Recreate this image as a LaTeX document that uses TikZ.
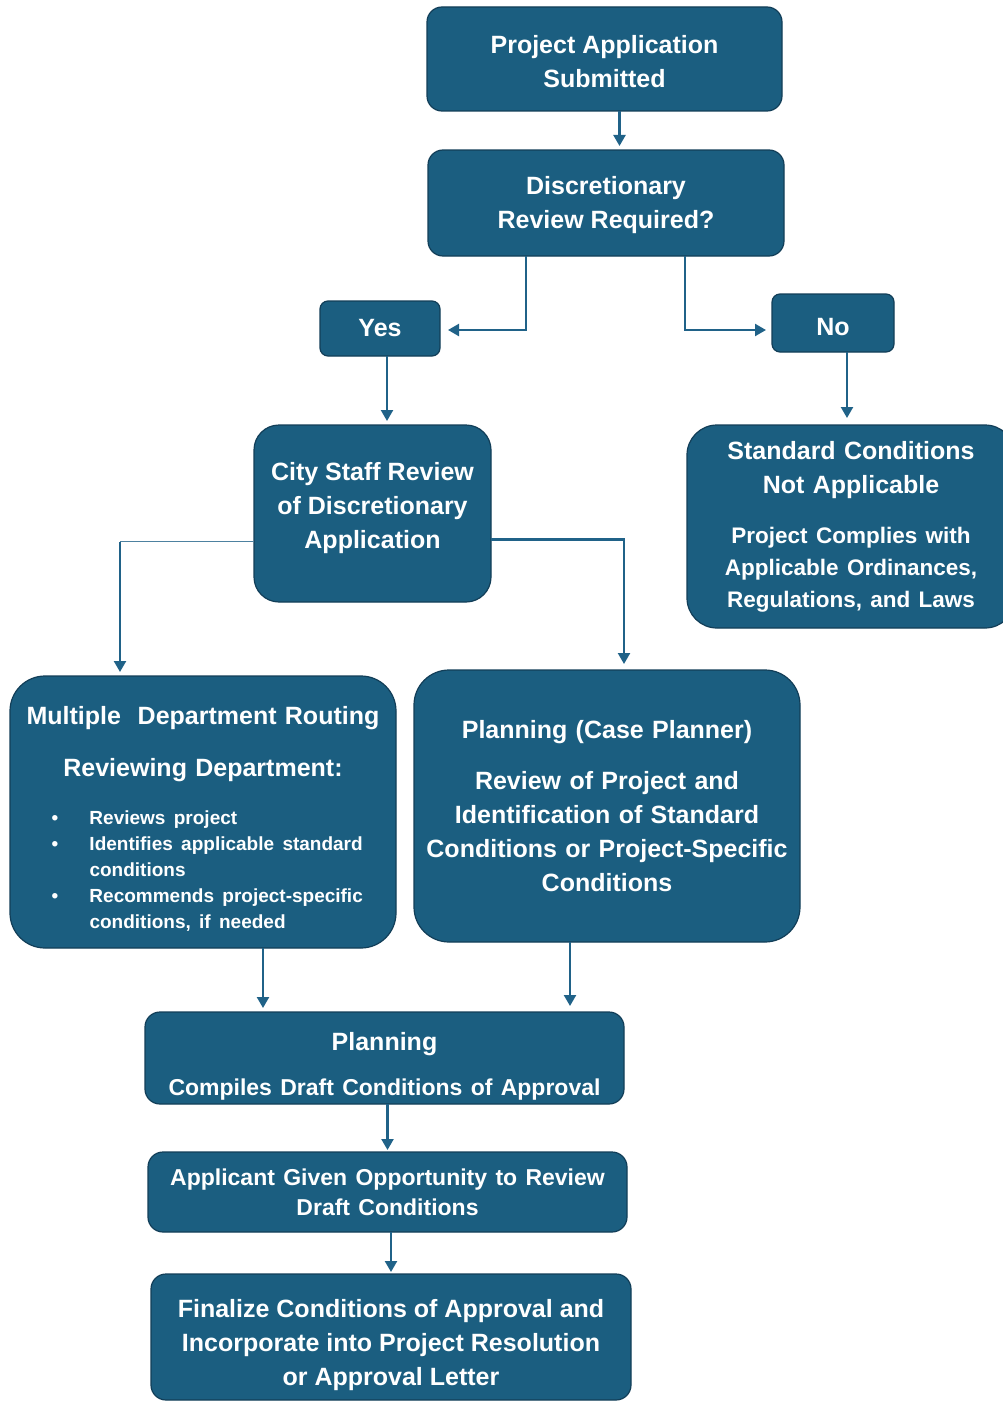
\documentclass[tikz,border=0pt]{standalone}
\usepackage{fontspec}
\setmainfont{Liberation Sans}
\usepackage{array}
\usetikzlibrary{arrows.meta}
\definecolor{boxblue}{RGB}{27,94,128}
\definecolor{boxedge}{RGB}{18,62,88}
\definecolor{flowline}{RGB}{32,98,136}

\begin{document}
\begin{tikzpicture}[x=1pt, y=-1pt,
    every node/.style = {inner sep=0pt, outer sep=0pt, align=center,
                         font=\bfseries\fontsize{25}{34}\selectfont, text=white},
           box/.style = {draw=boxedge, line width=1.2pt, fill=boxblue,
                         rounded corners=#1},
         box/.default = 15pt,
          flow/.style = {draw=flowline, line width=2.3pt, shorten >=4pt,
                         -{Triangle[width=12pt,length=11pt]}},
      thinflow/.style = {draw=flowline!80, line width=1.3pt},]%
  \useasboundingbox (0,0) rectangle (1003,1402);
  % top of the chart
  \node [box, minimum width=355pt, minimum height=104pt,
         label={[yshift=-2.5pt]center:{Project Application\\Submitted}}]
        (submit) at (604.5,59) {};
  \node [box, minimum width=356pt, minimum height=106pt,
         label={[yshift=-2.5pt]center:{Discretionary\\Review Required?}}]
        (discr)  at (606,203) {};
  \node [box=8pt, minimum width=120pt, minimum height=55pt]
        (yes)    at (380,328.5) {Yes};
  \node [box=8pt, minimum width=122pt, minimum height=58pt,
         label={[yshift=-4pt]center:No}]
        (no)     at (833,323) {};
  % second level
  \node [box=25pt, minimum width=237pt, minimum height=177pt,
         label={[yshift=5pt]center:{City Staff Review\\of Discretionary\\Application}}]
        (city)   at (372.5,513.5) {};
  \node [box=30pt, minimum width=328pt, minimum height=203pt, text width=310pt]
        (std)    at (851,526.5) {Standard Conditions\\Not Applicable\par
                   \vspace{18pt}{\fontsize{22.5}{32}\selectfont Project Complies with\\
                   Applicable Ordinances,\\Regulations, and Laws\par}};
  % review boxes
  \node [box=35pt, minimum width=386pt, minimum height=272pt,
         label={[yshift=-9pt, text width=380pt]center:{Multiple\ \ Department Routing\endgraf
                   \vspace{18pt}Reviewing Department:\endgraf
                   \vspace{22pt}{\fontsize{19}{26}\selectfont\hspace*{12pt}%
                   \begin{tabular}[t]{@{}>{\raggedright\arraybackslash}p{38pt}@{}>{\raggedright\arraybackslash}p{277pt}@{}}
                     \textbullet & Reviews project\\
                     \textbullet & Identifies applicable standard conditions\\
                     \textbullet & Recommends project-specific conditions, if needed
                   \end{tabular}\endgraf}}}]
        (multi)  at (203,812) {};
  \node [box=35pt, minimum width=386pt, minimum height=272pt, text width=380pt]
        (plan)   at (607,806) {Planning (Case Planner)\par
                   \vspace{17pt}Review of Project and\\Identification of Standard\\
                   Conditions or Project-Specific\\Conditions};
  % bottom of the chart
  \node [box, minimum width=479pt, minimum height=92pt,
         label={[yshift=-8.5pt, text width=470pt]center:{Planning\endgraf
                   \vspace{15pt}{\fontsize{23}{30}\selectfont Compiles Draft Conditions of Approval\endgraf}}}]
        (compile) at (384.5,1058) {};
  \node [box, minimum width=479pt, minimum height=80pt, text width=470pt]
        (appl)   at (387.5,1192) {{\fontsize{23}{30}\selectfont Applicant Given Opportunity to Review\\
                   Draft Conditions\par}};
  \node [box, minimum width=480pt, minimum height=126pt,
         label={[yshift=-8pt]center:{Finalize Conditions of Approval and\\
                   Incorporate into Project Resolution\\or Approval Letter}}]
        (final)  at (391,1337) {};
  % connectors
  \draw [flow] ([xshift=15pt]submit.south) -- ([xshift=15pt]submit.south |- discr.north);
  \draw [flow, shorten >=8pt] ([xshift=-80pt]discr.south) |- ([yshift=-1.5pt]yes.east);
  \draw [flow, shorten >=6pt] ([xshift=79pt]discr.south) |- ([yshift=-7pt]no.west);
  \draw [flow] ([xshift=7pt]yes.south) -- ([xshift=7pt]yes.south |- city.north);
  \draw [flow, shorten >=7pt] ([xshift=14pt]no.south) -- ([xshift=14pt]no.south |- std.north);
  \path ([yshift=-28pt]city.west) -| coordinate[pos=0.5] (lbend) ([xshift=-83pt]multi.north);
  \draw [thinflow] ([yshift=-28pt]city.west) -- (lbend);
  \draw [flow] (lbend) -- ([xshift=-83pt]multi.north);
  \draw [flow, shorten >=6pt] ([yshift=-26pt]city.east) -| ([xshift=17pt]plan.north);
  \draw [flow] ([xshift=60pt]multi.south) -- ([xshift=60pt]multi.south |- compile.north);
  \draw [flow, shorten >=6pt] ([xshift=-37pt]plan.south) -- ([xshift=-37pt]plan.south |- compile.north);
  \draw [flow, shorten >=2pt] (compile.south -| appl.north) -- (appl.north);
  \draw [flow, shorten >=2pt] (appl.south -| final.north) -- (final.north);
\end{tikzpicture}
\end{document}
